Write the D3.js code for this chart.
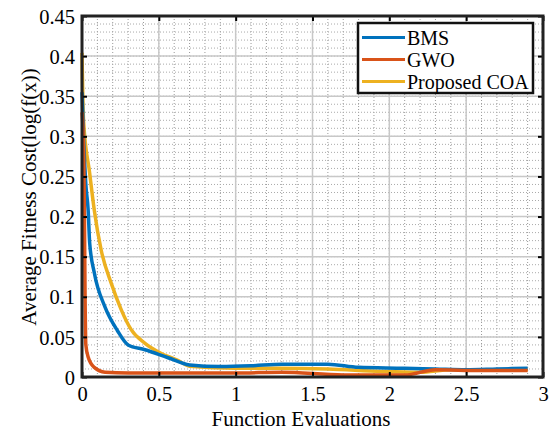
<!DOCTYPE html>
<html><head><meta charset="utf-8">
<script src="https://cdn.jsdelivr.net/npm/d3@7/dist/d3.min.js"></script>
<style>body{margin:0;background:#fff}</style>
</head><body>
<svg id="c" width="550" height="432"></svg>
<script>
const seriesNames = ["BMS", "GWO", "Proposed COA"];
const seriesColors = ["#0072BD", "#D95319", "#EDB120"];
const xTicks = [0, 0.5, 1, 1.5, 2, 2.5, 3];
const yTicks = [0, 0.05, 0.1, 0.15, 0.2, 0.25, 0.3, 0.35, 0.4, 0.45];
const bmsX = [0, 0.005, 0.012, 0.025, 0.04, 0.05, 0.08, 0.15, 0.23, 0.3, 0.41, 0.56, 0.7, 0.9, 1.1, 1.3, 1.6, 1.8, 2.1, 2.3, 2.5, 2.7, 2.9];
const bmsY = [0.355, 0.33, 0.29, 0.24, 0.208, 0.167, 0.13, 0.087, 0.058, 0.04, 0.034, 0.024, 0.015, 0.013, 0.014, 0.016, 0.016, 0.012, 0.011, 0.010, 0.009, 0.010, 0.011];
const gwoX = [0, 0.008, 0.015, 0.02, 0.025, 0.04, 0.08, 0.15, 0.3, 0.6, 1.0, 1.3, 1.7, 2.1, 2.3, 2.6, 2.9];
const gwoY = [0.33, 0.3, 0.22, 0.1, 0.04, 0.025, 0.012, 0.006, 0.005, 0.005, 0.005, 0.006, 0.0025, 0.0025, 0.009, 0.008, 0.008];
const coaX = [0, 0.01, 0.05, 0.08, 0.125, 0.19, 0.255, 0.32, 0.41, 0.51, 0.62, 0.7, 1.0, 1.28, 1.6, 1.95, 2.2, 2.4, 2.6, 2.9];
const coaY = [0.404, 0.32, 0.254, 0.208, 0.158, 0.117, 0.084, 0.059, 0.042, 0.03, 0.021, 0.0135, 0.011, 0.011, 0.01, 0.007, 0.006, 0.009, 0.009, 0.009];

const seriesX = [bmsX, gwoX, coaX];
const seriesY = [bmsY, gwoY, coaY];

const svg = d3.select("#c");
const L = 82, R = 543, T = 16, B = 377;
const x = d3.scaleLinear().domain([0, 3]).range([L, R]);
const y = d3.scaleLinear().domain([0, 0.45]).range([B, T]);
const font = "'Liberation Serif', 'Times New Roman', serif";

// minor dotted grid
const g = svg.append("g");
g.selectAll(".mx").data(d3.range(0, 3.001, 0.1)).join("line")
  .attr("x1", d => x(d)).attr("x2", d => x(d)).attr("y1", T).attr("y2", B)
  .attr("stroke", "#999").attr("stroke-width", 1).attr("stroke-dasharray", "1,2");
g.selectAll(".my").data(d3.range(0, 0.4501, 0.01)).join("line")
  .attr("y1", d => y(d)).attr("y2", d => y(d)).attr("x1", L).attr("x2", R)
  .attr("stroke", "#aaa").attr("stroke-width", 1).attr("stroke-dasharray", "1,2");
// major grid
g.selectAll(".Mx").data(xTicks).join("line")
  .attr("x1", d => x(d)).attr("x2", d => x(d)).attr("y1", T).attr("y2", B)
  .attr("stroke", "#c8c8c8").attr("stroke-width", 1.5);
g.selectAll(".My").data(yTicks).join("line")
  .attr("y1", d => y(d)).attr("y2", d => y(d)).attr("x1", L).attr("x2", R)
  .attr("stroke", "#c8c8c8").attr("stroke-width", 1.5);

// lines
const line = d3.line().x(d => x(d[0])).y(d => y(d[1])).curve(d3.curveMonotoneX);
[2, 0, 1].forEach(i => {
  const pts = seriesX[i].map((v, k) => [v, seriesY[i][k]]);
  svg.append("path").datum(pts).attr("d", line).attr("fill", "none")
    .attr("stroke", seriesColors[i]).attr("stroke-width", 3.5).attr("stroke-linejoin", "round");
});

// axes
const xAxis = d3.axisBottom(x).tickValues(xTicks).tickSize(-5).tickPadding(9).tickFormat(d3.format("~g"));
const yAxis = d3.axisLeft(y).tickValues(yTicks).tickSize(-5).tickPadding(7).tickFormat(d3.format("~g"));
const xa = svg.append("g").attr("transform", `translate(0,${B})`).call(xAxis);
const ya = svg.append("g").attr("transform", `translate(${L},0)`).call(yAxis);
[xa, ya].forEach(a => {
  a.select(".domain").remove();
  a.selectAll("line").attr("stroke", "#000").attr("stroke-width", 2);
  a.selectAll("text").attr("font-family", font).attr("font-size", 20.5).attr("fill", "#000");
});
ya.selectAll("text").attr("dy", "0.35em");
svg.append("g").attr("transform", `translate(0,${T})`).call(d3.axisTop(x).tickValues(xTicks).tickSize(-5).tickFormat(""))
  .call(a => { a.select(".domain").remove(); a.selectAll("line").attr("stroke", "#000").attr("stroke-width", 2); });
svg.append("g").attr("transform", `translate(${R},0)`).call(d3.axisRight(y).tickValues(yTicks).tickSize(-5).tickFormat(""))
  .call(a => { a.select(".domain").remove(); a.selectAll("line").attr("stroke", "#000").attr("stroke-width", 2); });

svg.append("rect").attr("x", L).attr("y", T).attr("width", R - L).attr("height", B - T)
  .attr("fill", "none").attr("stroke", "#222").attr("stroke-width", 3);

// labels
svg.append("text").attr("x", 301).attr("y", 426).attr("text-anchor", "middle")
  .attr("font-family", font).attr("font-size", 21).text("Function Evaluations");
svg.append("text").attr("transform", `translate(36,197) rotate(-90)`).attr("text-anchor", "middle")
  .attr("font-family", font).attr("font-size", 21).text("Average Fitness Cost(log(f(x))");

// legend
const lg = svg.append("g");
lg.append("rect").attr("x", 358).attr("y", 23).attr("width", 175).attr("height", 70)
  .attr("fill", "#fff").attr("stroke", "#111").attr("stroke-width", 2.5);
seriesNames.forEach((n, i) => {
  const yy = 37.5 + i * 22;
  lg.append("line").attr("x1", 362).attr("x2", 405).attr("y1", yy).attr("y2", yy)
    .attr("stroke", seriesColors[i]).attr("stroke-width", 3);
  lg.append("text").attr("x", 407).attr("y", yy).attr("dy", "0.35em")
    .attr("font-family", font).attr("font-size", 20).text(n);
});
</script>
</body></html>
